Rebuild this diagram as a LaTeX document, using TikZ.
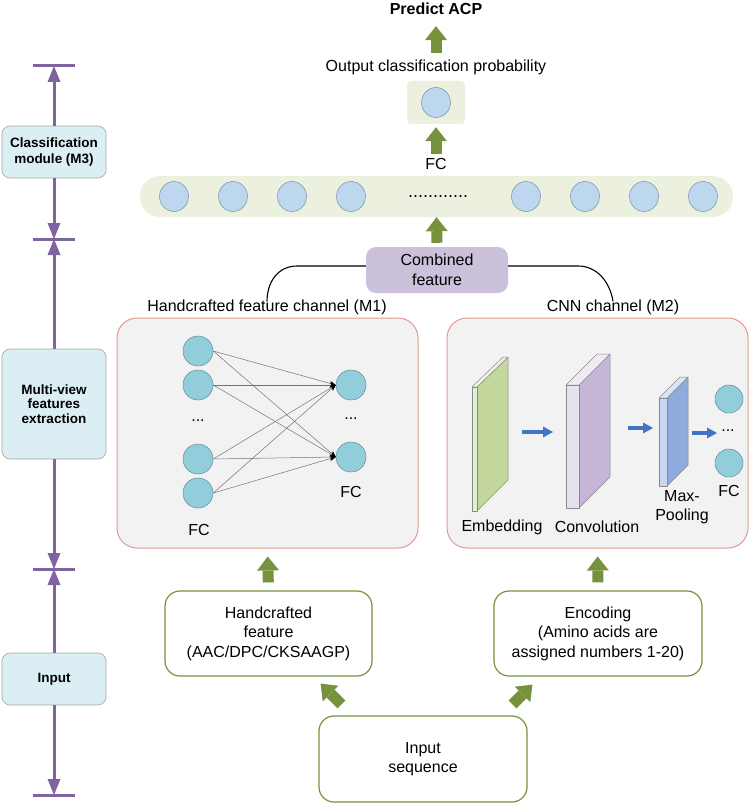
\documentclass[tikz,border=0pt]{standalone}
\usepackage{fontspec}
\setmainfont{Liberation Sans}
\usetikzlibrary{arrows.meta,calc,shapes.geometric}
\definecolor{ggreen}{HTML}{76923C}
\definecolor{purp}{HTML}{8064A2}
\definecolor{lblue}{HTML}{DAEEF3}
\definecolor{lgreen}{HTML}{EBF1DE}
\definecolor{lavender}{HTML}{CCC1DA}
\definecolor{salmon}{HTML}{E39A93}
\definecolor{panel}{HTML}{F2F2F2}
\definecolor{aqua}{HTML}{92CDDC}
\definecolor{aquaedge}{HTML}{5F8A96}
\definecolor{pblue}{HTML}{BDD7EE}
\definecolor{pblueedge}{HTML}{7D8FA8}
\definecolor{arrblue}{HTML}{4472C4}
\definecolor{slabedge}{HTML}{8A8A8A}
\definecolor{embfront}{HTML}{E4EED2}
\definecolor{embtop}{HTML}{EEF4E0}
\definecolor{embside}{HTML}{C3D69B}
\definecolor{convfront}{HTML}{E6E1EE}
\definecolor{convtop}{HTML}{EFEBF4}
\definecolor{convside}{HTML}{C5B6D8}
\definecolor{poolfront}{HTML}{C9D7F1}
\definecolor{pooltop}{HTML}{DCE5F6}
\definecolor{poolside}{HTML}{8FAADC}
\tikzset{
  lbl/.style={font=\fontsize{16}{19.5}\selectfont, inner sep=0pt, align=center},
  sidebox/.style={draw=black!35, line width=0.6pt, fill=lblue, rounded corners=8pt,
    minimum width=104pt, font=\fontsize{13.5}{15.5}\selectfont\bfseries, align=center, inner sep=0pt},
  garrow/.style={draw=ggreen, line width=11pt, -{Triangle[width=22pt,length=14pt,line width=0pt]}},
  parrow/.style={draw=purp, line width=3pt, -{Triangle[width=13pt,length=16pt,line width=0pt]}},
  barrow/.style={draw=arrblue, line width=4pt, -{Triangle[width=11pt,length=10pt,line width=0pt]}},
  tickline/.style={draw=purp, line width=3pt},
  nnline/.style={draw=black!55, line width=0.5pt, -{Stealth[length=6pt,width=5pt,black]}},
  neuron/.style={circle, draw=aquaedge, line width=0.5pt, fill=aqua, minimum size=30pt, inner sep=0pt},
  fcneuron/.style={ellipse, draw=pblueedge, line width=0.5pt, fill=pblue, minimum width=29pt, minimum height=30pt, inner sep=0pt},
  panelbox/.style={draw=salmon, line width=1pt, fill=panel, rounded corners=20pt, minimum width=301pt, minimum height=230pt},
  gbox/.style={draw=ggreen, line width=1.2pt, fill=white, rounded corners=15pt, inner sep=0pt, align=center,
    font=\fontsize{16}{19.5}\selectfont},
  slab/.style={draw=slabedge, line width=0.5pt, line join=round},
}
\begin{document}
\begin{tikzpicture}[x=1pt,y=-1pt]
\useasboundingbox (0,0) rectangle (750,805);

% ---------- left column ----------
\node[sidebox, minimum height=52pt] (lc1) at (54,152) {Classification\\module (M3)};
\node[sidebox, minimum height=110pt, font=\fontsize{13.5}{14.5}\selectfont\bfseries] (lc2) at (54,404) {Multi-view\\features\\extraction};
\node[sidebox, minimum height=52pt] (lc3) at (54,679) {Input};
\coordinate (t0) at (54,66);
\coordinate (t1) at (54,239);
\coordinate (t2) at (54,569);
\coordinate (t3) at (54,795);
\foreach \t in {t0,t1,t2,t3}{\draw[tickline] ([xshift=-21pt]\t) -- ([xshift=21pt]\t);}
\draw[parrow] (lc1.north) -- (t0);
\draw[parrow] (lc1.south) -- (t1);
\draw[parrow] (lc2.north) -- (t1);
\draw[parrow] (lc2.south) -- (t2);
\draw[parrow] (lc3.north) -- (t2);
\draw[parrow] (lc3.south) -- (t3);

% ---------- top ----------
\node[lbl, font=\fontsize{16}{19.5}\selectfont\bfseries] (predict) at (436,9) {Predict ACP};
\node[lbl] (outlab) at (436,67) {Output classification probability};
\node[fill=lgreen, rounded corners=4pt, minimum width=58pt, minimum height=43pt] (obox) at (436,102.5) {};
\node[fcneuron] (ocirc) at (436,102.5) {};
\node[lbl] (fclab) at (436,164) {FC};
\node[fill=lgreen, rounded corners=20pt, minimum width=593pt, minimum height=41pt] (bar) at (436.5,196.5) {};
\foreach \x [count=\i] in {174,233,292,351,526,585,644,703}{\node[fcneuron] (b\i) at (\x,196.5) {};}
\node[lbl, font=\fontsize{18}{20}\selectfont] (bdots) at (438,197) {............};
\node[fill=lavender, rounded corners=10pt, minimum width=142pt, minimum height=46pt, lbl] (comb) at (437,270) {Combined\\feature};

\draw[garrow, shorten <=6.5pt, shorten >=11pt] (outlab.north) -- (predict.south);
\draw[garrow, shorten <=4pt, shorten >=3pt] (fclab.north) -- (obox.south);
\draw[garrow, shorten <=4pt] (comb.north) -- (bar.south);

% connectors from combined feature
\node[lbl] (h1lab) at (267,307) {Handcrafted feature channel (M1)};
\node[lbl] (h2lab) at (613,307) {CNN channel (M2)};
\draw[line width=1.1pt] ([yshift=4pt]comb.west) -- (297,266) .. controls (278,266) and (267,282) .. ([yshift=-2pt]h1lab.north);
\draw[line width=1.1pt] ([yshift=4pt]comb.east) -- (578,266) .. controls (597,266) and (610,282) .. ([yshift=-2pt]h2lab.north);

% ---------- panels ----------
\node[panelbox] (m1) at (267.5,433) {};
\node[panelbox] (m2) at (597.5,433) {};

% handcrafted NN
\node[neuron] (L1) at (198,351) {};
\node[neuron] (L2) at (198,385) {};
\node[neuron] (L3) at (198,459) {};
\node[neuron] (L4) at (198,493) {};
\node[neuron] (R1) at (351,385) {};
\node[neuron] (R2) at (351,457) {};
\node[lbl] (ldots) at (198,421) {...};
\node[lbl] (rdots) at (351,419) {...};
\node[lbl] (fcl) at (199,530) {FC};
\node[lbl] (fcr) at (351,492) {FC};
\foreach \l in {L1,L2,L3,L4}{\foreach \r in {R1,R2}{\draw[nnline] (\l.east) -- (\r.west);}}

% CNN slabs: embedding
\filldraw[slab, fill=embside] (477,387) -- (508,357) -- (508,480) -- (477,511) -- cycle;
\filldraw[slab, fill=embtop] (472,387) -- (503,357) -- (508,357) -- (477,387) -- cycle;
\filldraw[slab, fill=embfront] (472,387) rectangle (477,511);
% convolution
\filldraw[slab, fill=convside] (579,385) -- (610,354) -- (610,477) -- (579,508) -- cycle;
\filldraw[slab, fill=convtop] (566,385) -- (597,354) -- (610,354) -- (579,385) -- cycle;
\filldraw[slab, fill=convfront] (566,385) rectangle (579,508);
% max pooling
\filldraw[slab, fill=poolside] (667,398) -- (688,377) -- (688,465) -- (667,486) -- cycle;
\filldraw[slab, fill=pooltop] (659,398) -- (680,377) -- (688,377) -- (667,398) -- cycle;
\filldraw[slab, fill=poolfront] (659,398) rectangle (667,486);

\coordinate (a1s) at (522,432);
\coordinate (a1e) at (553,432);
\coordinate (a2s) at (628,428);
\coordinate (a2e) at (653,428);
\coordinate (a3s) at (692,433);
\coordinate (a3e) at (717,433);
\draw[barrow] (a1s) -- (a1e);
\draw[barrow] (a2s) -- (a2e);
\draw[barrow] (a3s) -- (a3e);

\node[neuron, minimum size=28pt] (C1) at (729,399) {};
\node[neuron, minimum size=28pt] (C2) at (729,463) {};
\node[lbl] (cdots) at (728,431) {...};
\node[lbl] (fcc) at (729,491) {FC};
\node[lbl] (emblab) at (502,527) {Embedding};
\node[lbl] (convlab) at (597,527) {Convolution};
\node[lbl, font=\fontsize{16}{19}\selectfont] (poollab) at (682,507.5) {Max-\\Pooling};

% ---------- bottom ----------
\node[gbox, minimum width=207pt, minimum height=85pt] (hbox) at (268.5,633.5) {Handcrafted\\feature\\(AAC/DPC/CKSAAGP)};
\node[gbox, minimum width=208pt, minimum height=85pt] (ebox) at (598,633.5) {Encoding\\(Amino acids are\\assigned numbers 1-20)};
\node[gbox, minimum width=208pt, minimum height=86pt] (ibox) at (423,759) {Input\\sequence};

\draw[garrow, shorten <=8pt, shorten >=8pt] (hbox.north) -- (m1.south);
\draw[garrow, shorten <=8pt, shorten >=8pt] (ebox.north) -- (m2.south);
\draw[garrow] ($(ibox.north west)+(23,-11)$) -- ($(hbox.south east)+(-52,7)$);
\draw[garrow] ($(ibox.north east)+(-15,-11)$) -- ($(ebox.south west)+(39,8)$);
\end{tikzpicture}
\end{document}
